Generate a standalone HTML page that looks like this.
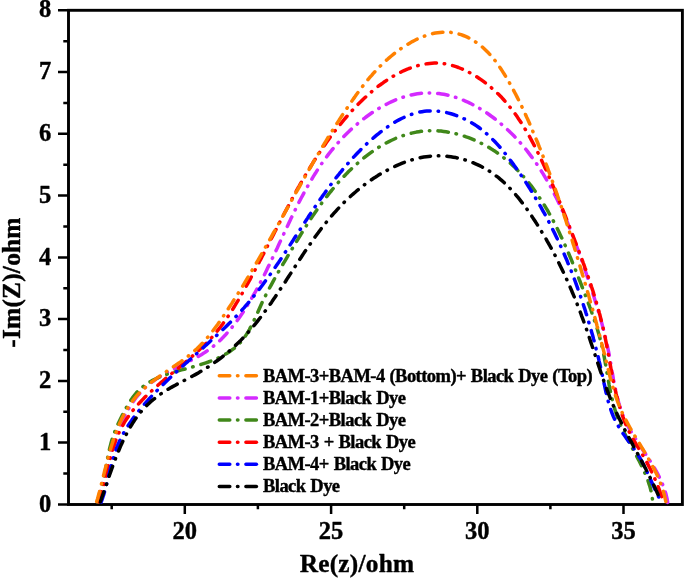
<!DOCTYPE html>
<html><head><meta charset="utf-8"><title>Nyquist plot</title>
<style>
html,body{margin:0;padding:0;background:#fff;overflow:hidden;}
svg{display:block;}
text{font-family:"Liberation Serif",serif;font-weight:bold;fill:#000;stroke:#000;stroke-width:0.4px;stroke-linejoin:round;}
.c{fill:none;stroke-width:3.5;stroke-linecap:round;stroke-linejoin:round;}
.t{font-size:24.5px;}
.l{font-size:18.5px;letter-spacing:-0.55px;word-spacing:0.8px;}
.a{font-size:25.3px;letter-spacing:0.25px;}
</style></head><body>
<svg width="685" height="578" viewBox="0 0 685 578">
<rect width="685" height="578" fill="#fff"/>
<defs><clipPath id="cp"><rect x="68.5" y="10.3" width="613.9" height="495.6"/></clipPath></defs>

<rect x="68.5" y="10.3" width="613.9" height="494.2" fill="none" stroke="#000" stroke-width="2.9"/>
<g clip-path="url(#cp)">
<path class="c" stroke="#D42AFF" stroke-dasharray="10.5 7.70 0.5 8.00" stroke-dashoffset="-1.6" d="M97.1,503.1 L97.7,500.8 L98.3,498.6 L99.0,496.3 L99.6,494.0 L100.2,491.7 L100.8,489.3 L101.4,487.0 L102.0,484.6 L102.7,482.2 L103.3,479.8 L103.9,477.3 L104.5,474.9 L105.2,472.4 L105.8,470.0 L106.5,467.5 L107.1,465.0 L107.8,462.6 L108.5,460.1 L109.2,457.6 L109.9,455.1 L110.6,452.6 L111.4,450.2 L112.1,447.7 L112.9,445.2 L113.7,442.8 L114.5,440.3 L115.4,437.9 L116.3,435.5 L117.1,433.1 L118.1,430.7 L119.0,428.4 L120.0,426.0 L121.0,423.7 L122.0,421.4 L123.1,419.1 L124.2,416.9 L125.3,414.6 L126.5,412.4 L127.7,410.3 L129.0,408.1 L130.3,406.1 L131.6,404.0 L133.0,402.0 L134.4,400.0 L135.8,398.0 L137.3,396.1 L138.9,394.3 L140.5,392.5 L142.1,390.7 L143.8,389.0 L145.5,387.3 L147.3,385.7 L149.2,384.2 L151.1,382.7 L153.1,381.2 L155.1,379.8 L157.1,378.4 L159.2,377.1 L161.3,375.8 L163.5,374.6 L165.7,373.3 L167.9,372.1 L170.1,371.0 L172.4,369.8 L174.6,368.6 L176.9,367.5 L179.2,366.4 L181.5,365.2 L183.8,364.1 L186.1,362.9 L188.3,361.8 L190.6,360.6 L192.9,359.4 L195.1,358.2 L197.3,357.0 L199.5,355.7 L201.7,354.4 L203.8,353.1 L205.9,351.7 L208.0,350.3 L210.0,348.8 L212.0,347.3 L213.9,345.8 L215.8,344.2 L217.7,342.5 L219.5,340.9 L221.3,339.2 L223.0,337.4 L224.8,335.6 L226.4,333.8 L228.1,332.0 L229.7,330.1 L231.3,328.2 L232.9,326.2 L234.4,324.3 L236.0,322.3 L237.4,320.3 L238.9,318.2 L240.3,316.2 L241.8,314.1 L243.2,312.0 L244.5,309.9 L245.9,307.8 L247.2,305.7 L248.5,303.5 L249.8,301.4 L251.1,299.2 L252.4,297.0 L253.6,294.9 L254.9,292.7 L256.1,290.5 L257.3,288.3 L258.5,286.1 L259.7,283.8 L260.8,281.6 L262.0,279.4 L263.1,277.1 L264.3,274.9 L265.4,272.7 L266.5,270.4 L267.6,268.1 L268.7,265.9 L269.8,263.6 L270.9,261.4 L272.0,259.1 L273.1,256.8 L274.2,254.5 L275.2,252.3 L276.3,250.0 L277.4,247.7 L278.4,245.4 L279.5,243.1 L280.5,240.9 L281.6,238.6 L282.7,236.3 L283.7,234.0 L284.8,231.7 L285.8,229.5 L286.9,227.2 L288.0,224.9 L289.0,222.7 L290.1,220.4 L291.2,218.1 L292.3,215.9 L293.4,213.6 L294.5,211.4 L295.6,209.1 L296.7,206.9 L297.8,204.7 L298.9,202.4 L300.1,200.2 L301.2,198.0 L302.4,195.8 L303.6,193.6 L304.8,191.4 L306.0,189.3 L307.2,187.1 L308.4,184.9 L309.6,182.8 L310.9,180.6 L312.2,178.5 L313.4,176.4 L314.7,174.3 L316.1,172.2 L317.4,170.1 L318.8,168.0 L320.1,166.0 L321.5,163.9 L323.0,161.9 L324.4,159.9 L325.9,157.9 L327.3,155.9 L328.8,153.9 L330.4,151.9 L331.9,150.0 L333.5,148.1 L335.1,146.1 L336.7,144.2 L338.4,142.4 L340.1,140.5 L341.8,138.7 L343.5,136.8 L345.3,135.0 L347.1,133.2 L348.9,131.5 L350.7,129.7 L352.6,128.0 L354.5,126.3 L356.5,124.6 L358.5,122.9 L360.5,121.3 L362.5,119.6 L364.6,118.1 L366.7,116.5 L368.8,115.0 L370.9,113.5 L373.1,112.0 L375.3,110.6 L377.5,109.2 L379.7,107.9 L382.0,106.6 L384.3,105.4 L386.5,104.2 L388.8,103.0 L391.2,101.9 L393.5,100.9 L395.8,99.9 L398.2,99.0 L400.6,98.1 L402.9,97.3 L405.3,96.5 L407.7,95.8 L410.1,95.2 L412.5,94.7 L414.9,94.2 L417.3,93.8 L419.7,93.5 L422.1,93.2 L424.5,93.0 L427.0,92.9 L429.4,92.9 L431.8,92.9 L434.2,93.1 L436.6,93.3 L439.0,93.5 L441.4,93.9 L443.7,94.3 L446.1,94.8 L448.5,95.3 L450.8,95.9 L453.2,96.6 L455.5,97.3 L457.9,98.1 L460.2,98.9 L462.5,99.9 L464.8,100.8 L467.1,101.8 L469.3,102.9 L471.6,104.0 L473.8,105.2 L476.0,106.4 L478.2,107.6 L480.4,108.9 L482.6,110.2 L484.7,111.6 L486.9,113.0 L489.0,114.5 L491.0,116.0 L493.1,117.5 L495.1,119.0 L497.1,120.6 L499.1,122.2 L501.1,123.9 L503.0,125.6 L504.9,127.3 L506.8,129.0 L508.7,130.7 L510.5,132.5 L512.3,134.2 L514.1,136.0 L515.8,137.9 L517.5,139.7 L519.2,141.6 L520.9,143.4 L522.5,145.3 L524.1,147.3 L525.7,149.2 L527.3,151.1 L528.8,153.1 L530.3,155.1 L531.8,157.1 L533.3,159.1 L534.7,161.1 L536.2,163.2 L537.6,165.2 L538.9,167.3 L540.3,169.4 L541.6,171.5 L543.0,173.6 L544.3,175.8 L545.5,177.9 L546.8,180.1 L548.0,182.2 L549.3,184.4 L550.5,186.6 L551.7,188.8 L552.8,191.0 L554.0,193.3 L555.1,195.5 L556.3,197.8 L557.4,200.0 L558.5,202.3 L559.5,204.6 L560.6,206.8 L561.7,209.1 L562.7,211.4 L563.7,213.7 L564.7,216.1 L565.7,218.4 L566.7,220.7 L567.7,223.0 L568.6,225.4 L569.6,227.7 L570.5,230.1 L571.4,232.4 L572.4,234.8 L573.3,237.2 L574.2,239.5 L575.1,241.9 L575.9,244.3 L576.8,246.6 L577.7,249.0 L578.5,251.4 L579.4,253.8 L580.2,256.2 L581.1,258.5 L581.9,260.9 L582.7,263.3 L583.6,265.7 L584.4,268.1 L585.2,270.5 L586.0,272.8 L586.8,275.2 L587.6,277.6 L588.4,280.0 L589.2,282.3 L590.0,284.7 L590.8,287.1 L591.6,289.5 L592.3,291.8 L593.1,294.2 L593.9,296.6 L594.6,299.0 L595.3,301.3 L596.1,303.7 L596.8,306.1 L597.5,308.5 L598.2,310.9 L598.9,313.2 L599.6,315.6 L600.3,318.0 L601.0,320.4 L601.7,322.8 L602.3,325.2 L602.9,327.6 L603.6,330.0 L604.2,332.4 L604.8,334.9 L605.4,337.3 L605.9,339.7 L606.5,342.1 L607.0,344.6 L607.6,347.0 L608.1,349.5 L608.6,351.9 L609.1,354.4 L609.5,356.9 L610.0,359.4 L610.4,361.8 L610.9,364.3 L611.3,366.8 L611.7,369.3 L612.1,371.8 L612.6,374.3 L613.0,376.8 L613.4,379.3 L613.9,381.7 L614.4,384.2 L614.9,386.7 L615.4,389.1 L615.9,391.6 L616.4,394.0 L617.0,396.4 L617.6,398.8 L618.3,401.2 L618.9,403.6 L619.7,406.0 L620.4,408.3 L621.2,410.7 L622.1,413.0 L622.9,415.3 L623.9,417.5 L624.9,419.8 L625.9,422.0 L627.0,424.2 L628.2,426.4 L629.3,428.6 L630.6,430.7 L631.8,432.9 L633.1,435.0 L634.4,437.1 L635.8,439.2 L637.1,441.3 L638.5,443.4 L639.9,445.5 L641.3,447.6 L642.7,449.7 L644.0,451.7 L645.4,453.8 L646.8,455.9 L648.2,458.0 L649.6,460.1 L650.9,462.3 L652.2,464.4 L653.5,466.5 L654.8,468.7 L656.1,470.9 L657.3,473.1 L658.4,475.3 L659.5,477.5 L660.6,479.8 L661.6,482.1 L662.6,484.4 L663.5,486.7 L664.4,489.1 L665.1,491.5 L665.9,493.9 L666.5,496.4 L667.1,498.9 L667.5,501.4 L667.9,503.9"/>
<path class="c" stroke="#40881A" stroke-dasharray="10.5 7.82 0.5 8.12" stroke-dashoffset="-1.6" d="M97.6,503.6 L98.4,501.2 L99.1,498.8 L99.8,496.4 L100.5,493.9 L101.1,491.5 L101.7,489.1 L102.3,486.6 L102.8,484.1 L103.3,481.7 L103.8,479.2 L104.2,476.7 L104.7,474.2 L105.1,471.7 L105.6,469.3 L106.0,466.8 L106.5,464.3 L106.9,461.8 L107.4,459.4 L107.8,456.9 L108.3,454.5 L108.8,452.0 L109.4,449.6 L110.0,447.2 L110.6,444.8 L111.2,442.5 L111.9,440.1 L112.6,437.8 L113.4,435.4 L114.3,433.1 L115.1,430.9 L116.1,428.6 L117.0,426.3 L118.0,424.0 L119.1,421.8 L120.2,419.5 L121.3,417.2 L122.5,414.9 L123.7,412.6 L124.9,410.2 L126.2,407.9 L127.5,405.6 L128.8,403.3 L130.3,401.1 L131.7,398.9 L133.2,396.8 L134.8,394.8 L136.4,392.8 L138.1,391.0 L139.9,389.3 L141.7,387.7 L143.6,386.2 L145.5,384.7 L147.5,383.4 L149.5,382.1 L151.6,380.9 L153.7,379.8 L155.9,378.7 L158.0,377.7 L160.3,376.8 L162.5,375.9 L164.8,375.0 L167.2,374.2 L169.5,373.4 L171.9,372.7 L174.3,372.0 L176.7,371.3 L179.1,370.6 L181.5,369.9 L184.0,369.3 L186.4,368.6 L188.9,367.9 L191.3,367.3 L193.8,366.6 L196.2,365.9 L198.7,365.1 L201.1,364.4 L203.5,363.6 L205.9,362.8 L208.3,362.0 L210.7,361.1 L213.0,360.2 L215.3,359.2 L217.6,358.2 L219.9,357.2 L222.1,356.1 L224.2,355.0 L226.3,353.7 L228.4,352.5 L230.4,351.1 L232.3,349.7 L234.2,348.3 L236.1,346.7 L237.8,345.1 L239.5,343.4 L241.1,341.7 L242.7,339.8 L244.1,337.9 L245.5,335.9 L246.9,333.8 L248.2,331.7 L249.4,329.6 L250.5,327.4 L251.7,325.3 L252.8,323.1 L253.8,320.9 L254.8,318.7 L255.9,316.4 L256.9,314.2 L257.9,312.0 L258.9,309.7 L259.9,307.5 L260.9,305.2 L261.9,303.0 L263.0,300.8 L264.1,298.6 L265.2,296.3 L266.3,294.1 L267.5,291.9 L268.6,289.7 L269.8,287.5 L271.0,285.3 L272.2,283.1 L273.4,280.9 L274.6,278.7 L275.8,276.5 L277.1,274.3 L278.3,272.1 L279.6,270.0 L280.9,267.8 L282.1,265.6 L283.4,263.4 L284.7,261.3 L286.0,259.1 L287.3,256.9 L288.5,254.8 L289.8,252.6 L291.1,250.5 L292.4,248.3 L293.7,246.2 L295.0,244.0 L296.3,241.9 L297.6,239.8 L298.9,237.6 L300.2,235.5 L301.5,233.4 L302.8,231.3 L304.1,229.2 L305.5,227.1 L306.8,225.0 L308.2,222.9 L309.5,220.8 L310.9,218.7 L312.3,216.6 L313.7,214.6 L315.1,212.5 L316.5,210.5 L317.9,208.4 L319.4,206.4 L320.8,204.4 L322.3,202.4 L323.8,200.4 L325.3,198.4 L326.9,196.4 L328.4,194.4 L330.0,192.4 L331.6,190.5 L333.2,188.5 L334.8,186.6 L336.5,184.7 L338.1,182.7 L339.8,180.8 L341.6,179.0 L343.3,177.1 L345.1,175.2 L346.8,173.4 L348.6,171.6 L350.5,169.8 L352.3,168.0 L354.2,166.3 L356.1,164.6 L358.0,162.9 L359.9,161.2 L361.8,159.6 L363.8,158.0 L365.8,156.4 L367.8,154.9 L369.8,153.4 L371.9,151.9 L373.9,150.5 L376.0,149.1 L378.1,147.7 L380.2,146.4 L382.3,145.1 L384.5,143.9 L386.7,142.7 L388.9,141.6 L391.1,140.5 L393.3,139.5 L395.5,138.5 L397.8,137.5 L400.0,136.7 L402.3,135.8 L404.6,135.1 L407.0,134.4 L409.3,133.7 L411.6,133.1 L414.0,132.6 L416.4,132.1 L418.8,131.7 L421.2,131.3 L423.6,131.1 L426.1,130.9 L428.5,130.7 L431.0,130.7 L433.5,130.7 L436.0,130.7 L438.5,130.9 L441.0,131.1 L443.6,131.4 L446.1,131.8 L448.6,132.2 L451.2,132.7 L453.7,133.2 L456.2,133.8 L458.8,134.5 L461.3,135.2 L463.7,136.0 L466.2,136.9 L468.6,137.7 L471.1,138.7 L473.4,139.7 L475.8,140.7 L478.1,141.7 L480.4,142.8 L482.6,144.0 L484.9,145.2 L487.0,146.4 L489.2,147.6 L491.3,148.9 L493.4,150.3 L495.5,151.6 L497.5,153.0 L499.5,154.5 L501.5,155.9 L503.4,157.4 L505.3,159.0 L507.2,160.5 L509.1,162.1 L510.9,163.8 L512.7,165.4 L514.5,167.1 L516.2,168.8 L517.9,170.6 L519.6,172.3 L521.3,174.1 L522.9,175.9 L524.5,177.8 L526.1,179.7 L527.7,181.5 L529.3,183.5 L530.8,185.4 L532.3,187.4 L533.7,189.3 L535.2,191.4 L536.6,193.4 L538.0,195.4 L539.4,197.5 L540.8,199.6 L542.2,201.7 L543.5,203.8 L544.8,205.9 L546.1,208.1 L547.4,210.2 L548.6,212.4 L549.9,214.6 L551.1,216.8 L552.3,219.0 L553.5,221.3 L554.7,223.5 L555.8,225.8 L557.0,228.0 L558.1,230.3 L559.2,232.6 L560.3,234.9 L561.4,237.2 L562.5,239.5 L563.6,241.8 L564.6,244.2 L565.7,246.5 L566.7,248.8 L567.7,251.2 L568.7,253.5 L569.7,255.9 L570.7,258.2 L571.7,260.6 L572.6,263.0 L573.6,265.3 L574.6,267.7 L575.5,270.0 L576.5,272.4 L577.4,274.8 L578.3,277.1 L579.2,279.5 L580.2,281.8 L581.1,284.2 L582.0,286.5 L582.9,288.9 L583.8,291.2 L584.7,293.5 L585.6,295.8 L586.4,298.2 L587.3,300.5 L588.2,302.8 L589.1,305.1 L589.9,307.4 L590.8,309.7 L591.6,312.0 L592.4,314.4 L593.2,316.7 L594.0,319.0 L594.8,321.3 L595.6,323.7 L596.3,326.0 L597.1,328.3 L597.8,330.7 L598.5,333.0 L599.2,335.4 L599.8,337.8 L600.5,340.2 L601.1,342.6 L601.7,345.0 L602.2,347.4 L602.8,349.9 L603.3,352.3 L603.8,354.8 L604.3,357.3 L604.7,359.8 L605.2,362.2 L605.6,364.7 L606.1,367.3 L606.5,369.8 L606.9,372.3 L607.4,374.8 L607.8,377.3 L608.2,379.8 L608.7,382.3 L609.1,384.8 L609.6,387.3 L610.1,389.8 L610.6,392.3 L611.1,394.8 L611.7,397.3 L612.3,399.7 L612.9,402.2 L613.5,404.6 L614.2,407.0 L614.9,409.4 L615.6,411.8 L616.4,414.2 L617.2,416.5 L618.1,418.8 L619.0,421.1 L620.0,423.4 L620.9,425.7 L622.0,427.9 L623.0,430.1 L624.1,432.4 L625.2,434.6 L626.3,436.8 L627.5,439.0 L628.6,441.2 L629.8,443.4 L631.0,445.6 L632.1,447.8 L633.3,450.0 L634.5,452.2 L635.7,454.4 L636.9,456.6 L638.0,458.8 L639.2,461.0 L640.3,463.3 L641.4,465.5 L642.5,467.8 L643.6,470.1 L644.6,472.3 L645.6,474.7 L646.6,477.0 L647.5,479.3 L648.3,481.7 L649.1,484.1 L649.9,486.5 L650.5,488.9 L651.1,491.3 L651.6,493.8 L652.1,496.3 L652.4,498.8 L652.7,501.3 L652.9,503.8"/>
<path class="c" stroke="#FF0000" stroke-dasharray="10.5 7.75 0.5 8.05" stroke-dashoffset="-1.6" d="M97.9,503.3 L98.8,501.1 L99.6,498.8 L100.4,496.5 L101.1,494.2 L101.8,491.9 L102.5,489.5 L103.2,487.1 L103.8,484.7 L104.5,482.3 L105.1,479.8 L105.7,477.4 L106.3,474.9 L106.9,472.4 L107.5,469.9 L108.1,467.4 L108.7,464.9 L109.3,462.4 L109.9,459.9 L110.6,457.4 L111.2,454.9 L111.9,452.4 L112.6,449.9 L113.4,447.5 L114.2,445.1 L115.0,442.7 L115.8,440.3 L116.7,437.9 L117.7,435.6 L118.7,433.3 L119.7,431.1 L120.8,428.9 L122.0,426.7 L123.2,424.6 L124.4,422.4 L125.7,420.4 L127.1,418.3 L128.5,416.3 L129.9,414.3 L131.4,412.4 L132.9,410.4 L134.5,408.5 L136.1,406.7 L137.7,404.8 L139.4,403.0 L141.1,401.2 L142.8,399.4 L144.6,397.6 L146.3,395.9 L148.1,394.1 L149.9,392.4 L151.8,390.7 L153.6,389.0 L155.5,387.4 L157.4,385.7 L159.3,384.0 L161.2,382.4 L163.1,380.8 L165.0,379.1 L167.0,377.5 L168.9,375.9 L170.8,374.3 L172.8,372.7 L174.7,371.1 L176.7,369.5 L178.6,367.9 L180.5,366.3 L182.5,364.6 L184.4,363.0 L186.3,361.4 L188.2,359.8 L190.1,358.1 L192.0,356.5 L193.9,354.8 L195.7,353.2 L197.6,351.5 L199.4,349.8 L201.2,348.1 L203.0,346.4 L204.8,344.6 L206.6,342.9 L208.3,341.1 L210.0,339.3 L211.7,337.5 L213.3,335.6 L215.0,333.7 L216.6,331.8 L218.1,329.9 L219.7,328.0 L221.2,326.0 L222.7,324.0 L224.1,322.0 L225.6,320.0 L227.0,317.9 L228.4,315.9 L229.8,313.8 L231.1,311.7 L232.5,309.6 L233.8,307.5 L235.1,305.4 L236.4,303.2 L237.7,301.1 L239.0,298.9 L240.2,296.8 L241.5,294.6 L242.7,292.4 L244.0,290.2 L245.2,288.0 L246.4,285.8 L247.7,283.7 L248.9,281.5 L250.1,279.3 L251.3,277.0 L252.5,274.8 L253.7,272.6 L254.8,270.4 L256.0,268.2 L257.2,266.0 L258.4,263.7 L259.5,261.5 L260.7,259.3 L261.9,257.0 L263.0,254.8 L264.2,252.6 L265.3,250.3 L266.5,248.1 L267.6,245.8 L268.8,243.6 L269.9,241.4 L271.1,239.1 L272.2,236.9 L273.4,234.6 L274.5,232.4 L275.7,230.2 L276.8,227.9 L278.0,225.7 L279.1,223.5 L280.3,221.2 L281.5,219.0 L282.6,216.8 L283.8,214.5 L284.9,212.3 L286.1,210.1 L287.3,207.9 L288.5,205.6 L289.6,203.4 L290.8,201.2 L292.0,199.0 L293.2,196.8 L294.4,194.6 L295.6,192.4 L296.8,190.2 L298.0,188.0 L299.3,185.9 L300.5,183.7 L301.7,181.5 L303.0,179.3 L304.2,177.2 L305.5,175.0 L306.8,172.9 L308.1,170.7 L309.4,168.6 L310.7,166.5 L312.0,164.4 L313.3,162.2 L314.6,160.1 L316.0,158.0 L317.3,156.0 L318.7,153.9 L320.0,151.8 L321.4,149.7 L322.8,147.7 L324.2,145.6 L325.7,143.6 L327.1,141.6 L328.6,139.5 L330.0,137.5 L331.5,135.5 L333.0,133.6 L334.5,131.6 L336.0,129.6 L337.6,127.7 L339.1,125.7 L340.7,123.8 L342.3,121.9 L343.9,119.9 L345.5,118.0 L347.1,116.2 L348.8,114.3 L350.5,112.4 L352.1,110.6 L353.9,108.7 L355.6,106.9 L357.3,105.1 L359.1,103.3 L360.9,101.6 L362.7,99.8 L364.5,98.1 L366.3,96.4 L368.2,94.7 L370.1,93.1 L372.0,91.4 L373.9,89.8 L375.8,88.3 L377.7,86.7 L379.7,85.2 L381.7,83.8 L383.7,82.3 L385.7,81.0 L387.7,79.6 L389.8,78.3 L391.8,77.0 L393.9,75.8 L396.0,74.6 L398.2,73.5 L400.3,72.4 L402.5,71.3 L404.6,70.3 L406.8,69.4 L409.0,68.5 L411.3,67.7 L413.5,66.9 L415.8,66.2 L418.0,65.6 L420.3,65.0 L422.6,64.5 L425.0,64.0 L427.3,63.7 L429.6,63.4 L432.0,63.2 L434.4,63.1 L436.7,63.1 L439.1,63.2 L441.5,63.4 L443.9,63.7 L446.3,64.1 L448.8,64.6 L451.2,65.2 L453.6,65.9 L456.0,66.7 L458.4,67.5 L460.8,68.5 L463.2,69.5 L465.5,70.6 L467.8,71.7 L470.1,72.9 L472.4,74.2 L474.6,75.5 L476.8,76.8 L478.9,78.2 L481.0,79.6 L483.1,81.1 L485.1,82.6 L487.1,84.1 L489.0,85.7 L490.9,87.3 L492.8,88.9 L494.7,90.6 L496.5,92.3 L498.3,94.1 L500.0,95.8 L501.8,97.6 L503.5,99.5 L505.1,101.3 L506.8,103.2 L508.4,105.1 L509.9,107.1 L511.5,109.0 L513.0,111.0 L514.5,113.0 L516.0,115.1 L517.4,117.1 L518.8,119.2 L520.2,121.2 L521.6,123.3 L522.9,125.4 L524.2,127.6 L525.5,129.7 L526.8,131.9 L528.1,134.0 L529.3,136.2 L530.5,138.4 L531.7,140.6 L532.9,142.8 L534.1,145.1 L535.2,147.3 L536.4,149.5 L537.5,151.8 L538.6,154.1 L539.7,156.3 L540.8,158.6 L541.9,160.9 L542.9,163.1 L544.0,165.4 L545.0,167.7 L546.1,170.0 L547.1,172.3 L548.1,174.6 L549.1,176.9 L550.1,179.2 L551.1,181.5 L552.1,183.8 L553.1,186.1 L554.1,188.4 L555.0,190.7 L556.0,193.0 L557.0,195.3 L557.9,197.6 L558.9,199.9 L559.8,202.2 L560.7,204.5 L561.7,206.9 L562.6,209.2 L563.5,211.5 L564.4,213.8 L565.4,216.1 L566.3,218.5 L567.2,220.8 L568.1,223.1 L569.0,225.4 L569.9,227.8 L570.8,230.1 L571.7,232.4 L572.6,234.8 L573.5,237.1 L574.4,239.4 L575.3,241.8 L576.2,244.1 L577.1,246.4 L578.0,248.8 L578.9,251.1 L579.8,253.5 L580.6,255.8 L581.5,258.1 L582.4,260.5 L583.2,262.8 L584.1,265.2 L584.9,267.5 L585.8,269.9 L586.6,272.3 L587.4,274.6 L588.3,277.0 L589.1,279.4 L589.9,281.7 L590.7,284.1 L591.4,286.5 L592.2,288.9 L593.0,291.3 L593.7,293.6 L594.5,296.0 L595.2,298.4 L595.9,300.8 L596.6,303.2 L597.3,305.6 L598.0,308.1 L598.7,310.5 L599.3,312.9 L600.0,315.3 L600.6,317.8 L601.2,320.2 L601.8,322.6 L602.4,325.1 L603.0,327.5 L603.5,330.0 L604.1,332.5 L604.6,334.9 L605.1,337.4 L605.6,339.9 L606.1,342.4 L606.6,344.8 L607.0,347.3 L607.5,349.8 L608.0,352.3 L608.4,354.8 L608.9,357.3 L609.3,359.7 L609.8,362.2 L610.2,364.7 L610.7,367.2 L611.1,369.7 L611.6,372.1 L612.1,374.6 L612.6,377.1 L613.0,379.5 L613.5,382.0 L614.1,384.4 L614.6,386.9 L615.1,389.3 L615.7,391.7 L616.2,394.2 L616.8,396.6 L617.5,399.0 L618.1,401.3 L618.7,403.7 L619.4,406.1 L620.1,408.4 L620.9,410.8 L621.6,413.1 L622.4,415.4 L623.2,417.7 L624.1,420.0 L625.0,422.3 L625.9,424.5 L626.9,426.8 L627.9,429.0 L628.9,431.2 L630.0,433.4 L631.2,435.6 L632.4,437.7 L633.6,439.9 L634.8,442.0 L636.1,444.1 L637.4,446.3 L638.7,448.4 L640.0,450.5 L641.3,452.7 L642.6,454.8 L643.8,457.0 L645.1,459.2 L646.3,461.4 L647.5,463.6 L648.6,465.8 L649.8,468.0 L650.9,470.3 L652.0,472.6 L653.1,474.8 L654.1,477.1 L655.1,479.4 L656.1,481.7 L657.1,484.1 L658.0,486.4 L658.9,488.7 L659.8,491.1 L660.7,493.5 L661.5,495.8 L662.3,498.2 L663.1,500.6 L663.8,503.0"/>
<path class="c" stroke="#0000FF" stroke-dasharray="10.5 7.90 0.5 8.20" stroke-dashoffset="-1.6" d="M100.6,503.5 L101.5,501.2 L102.3,498.9 L103.1,496.5 L103.9,494.1 L104.6,491.7 L105.3,489.3 L105.9,486.9 L106.6,484.5 L107.2,482.0 L107.8,479.6 L108.4,477.1 L109.0,474.6 L109.6,472.2 L110.2,469.7 L110.8,467.2 L111.4,464.8 L112.1,462.3 L112.8,459.9 L113.5,457.5 L114.2,455.1 L115.0,452.7 L115.8,450.3 L116.6,448.0 L117.6,445.7 L118.5,443.4 L119.5,441.2 L120.6,438.9 L121.7,436.7 L122.8,434.5 L124.0,432.4 L125.3,430.2 L126.5,428.1 L127.9,426.0 L129.2,424.0 L130.6,421.9 L132.0,419.9 L133.5,417.9 L134.9,415.9 L136.4,413.9 L138.0,412.0 L139.5,410.0 L141.1,408.1 L142.7,406.2 L144.3,404.3 L146.0,402.4 L147.6,400.6 L149.3,398.7 L151.0,396.9 L152.7,395.1 L154.4,393.3 L156.1,391.5 L157.9,389.7 L159.6,388.0 L161.4,386.2 L163.1,384.5 L164.9,382.7 L166.7,381.0 L168.5,379.3 L170.3,377.5 L172.1,375.8 L173.9,374.1 L175.8,372.4 L177.6,370.8 L179.4,369.1 L181.3,367.4 L183.1,365.7 L184.9,364.0 L186.8,362.4 L188.6,360.7 L190.5,359.0 L192.4,357.4 L194.2,355.7 L196.1,354.1 L197.9,352.4 L199.8,350.7 L201.6,349.1 L203.5,347.4 L205.3,345.8 L207.2,344.1 L209.0,342.4 L210.8,340.7 L212.7,339.1 L214.5,337.4 L216.3,335.7 L218.1,334.0 L219.9,332.3 L221.7,330.6 L223.5,328.9 L225.3,327.2 L227.1,325.4 L228.8,323.7 L230.6,322.0 L232.3,320.2 L234.1,318.4 L235.8,316.7 L237.5,314.9 L239.2,313.1 L240.8,311.3 L242.5,309.4 L244.2,307.6 L245.8,305.7 L247.4,303.9 L249.0,302.0 L250.6,300.1 L252.2,298.2 L253.7,296.3 L255.3,294.3 L256.8,292.4 L258.3,290.4 L259.9,288.5 L261.4,286.5 L262.9,284.5 L264.3,282.5 L265.8,280.5 L267.3,278.5 L268.7,276.5 L270.2,274.5 L271.6,272.4 L273.0,270.4 L274.4,268.4 L275.9,266.3 L277.3,264.2 L278.7,262.2 L280.1,260.1 L281.5,258.0 L282.8,255.9 L284.2,253.8 L285.6,251.8 L287.0,249.7 L288.4,247.6 L289.7,245.5 L291.1,243.4 L292.5,241.3 L293.8,239.2 L295.2,237.0 L296.6,234.9 L297.9,232.8 L299.3,230.7 L300.7,228.6 L302.0,226.5 L303.4,224.4 L304.8,222.3 L306.2,220.2 L307.6,218.1 L308.9,216.0 L310.3,213.9 L311.7,211.8 L313.1,209.7 L314.5,207.6 L315.9,205.6 L317.4,203.5 L318.8,201.4 L320.2,199.3 L321.7,197.3 L323.1,195.2 L324.6,193.2 L326.0,191.2 L327.5,189.1 L329.0,187.1 L330.5,185.1 L332.0,183.1 L333.5,181.1 L335.1,179.1 L336.6,177.1 L338.2,175.2 L339.7,173.2 L341.3,171.3 L342.9,169.3 L344.5,167.4 L346.2,165.5 L347.8,163.6 L349.5,161.7 L351.2,159.8 L352.8,158.0 L354.6,156.1 L356.3,154.3 L358.0,152.5 L359.8,150.7 L361.6,148.9 L363.4,147.1 L365.2,145.4 L367.0,143.6 L368.9,141.9 L370.8,140.2 L372.7,138.5 L374.6,136.9 L376.6,135.2 L378.6,133.6 L380.5,132.0 L382.6,130.5 L384.6,129.0 L386.6,127.5 L388.7,126.1 L390.8,124.7 L392.9,123.3 L395.1,122.0 L397.2,120.8 L399.4,119.6 L401.6,118.5 L403.8,117.5 L406.0,116.5 L408.2,115.5 L410.5,114.7 L412.8,113.9 L415.1,113.2 L417.4,112.6 L419.7,112.1 L422.1,111.7 L424.4,111.3 L426.8,111.1 L429.2,110.9 L431.6,110.9 L434.0,110.9 L436.5,111.0 L438.9,111.3 L441.3,111.6 L443.8,112.0 L446.2,112.5 L448.6,113.1 L451.1,113.8 L453.5,114.5 L455.9,115.3 L458.2,116.2 L460.6,117.2 L462.9,118.2 L465.2,119.3 L467.5,120.4 L469.7,121.6 L471.9,122.9 L474.1,124.2 L476.2,125.6 L478.2,127.0 L480.2,128.5 L482.2,130.0 L484.1,131.6 L486.0,133.2 L487.9,134.8 L489.7,136.5 L491.5,138.2 L493.2,140.0 L495.0,141.8 L496.7,143.6 L498.3,145.4 L500.0,147.3 L501.6,149.2 L503.2,151.1 L504.7,153.0 L506.3,155.0 L507.8,156.9 L509.3,158.9 L510.8,160.9 L512.3,162.9 L513.8,164.9 L515.3,167.0 L516.7,169.0 L518.1,171.0 L519.6,173.1 L521.0,175.1 L522.4,177.2 L523.8,179.3 L525.2,181.3 L526.5,183.4 L527.9,185.5 L529.2,187.6 L530.5,189.7 L531.9,191.8 L533.2,194.0 L534.5,196.1 L535.7,198.3 L537.0,200.4 L538.3,202.6 L539.5,204.7 L540.8,206.9 L542.0,209.1 L543.2,211.3 L544.4,213.4 L545.6,215.6 L546.8,217.8 L547.9,220.1 L549.1,222.3 L550.2,224.5 L551.4,226.7 L552.5,229.0 L553.6,231.2 L554.7,233.4 L555.8,235.7 L556.9,238.0 L557.9,240.2 L559.0,242.5 L560.0,244.8 L561.1,247.1 L562.1,249.3 L563.1,251.6 L564.1,253.9 L565.1,256.2 L566.1,258.5 L567.1,260.8 L568.0,263.2 L569.0,265.5 L569.9,267.8 L570.9,270.1 L571.8,272.5 L572.7,274.8 L573.6,277.1 L574.5,279.5 L575.4,281.8 L576.2,284.2 L577.1,286.6 L577.9,288.9 L578.8,291.3 L579.6,293.6 L580.4,296.0 L581.3,298.4 L582.1,300.8 L582.8,303.2 L583.6,305.5 L584.4,307.9 L585.2,310.3 L585.9,312.7 L586.7,315.1 L587.4,317.5 L588.1,319.9 L588.8,322.3 L589.5,324.7 L590.2,327.1 L590.9,329.5 L591.6,331.9 L592.3,334.3 L593.0,336.8 L593.6,339.2 L594.3,341.6 L594.9,344.0 L595.5,346.5 L596.1,348.9 L596.8,351.3 L597.4,353.8 L598.0,356.2 L598.6,358.6 L599.1,361.1 L599.7,363.5 L600.3,366.0 L600.8,368.4 L601.4,370.9 L601.9,373.3 L602.5,375.8 L603.0,378.2 L603.5,380.7 L604.0,383.1 L604.6,385.6 L605.1,388.1 L605.6,390.5 L606.2,393.0 L606.7,395.4 L607.3,397.8 L607.9,400.2 L608.6,402.6 L609.3,405.0 L610.0,407.4 L610.8,409.7 L611.6,412.0 L612.5,414.3 L613.4,416.6 L614.4,418.8 L615.5,421.1 L616.7,423.2 L617.9,425.4 L619.1,427.5 L620.5,429.6 L621.8,431.7 L623.2,433.8 L624.7,435.8 L626.1,437.9 L627.6,439.9 L629.1,442.0 L630.6,444.0 L632.0,446.1 L633.5,448.1 L634.9,450.2 L636.3,452.3 L637.7,454.4 L639.0,456.5 L640.3,458.7 L641.6,460.9 L642.7,463.1 L643.9,465.3 L645.0,467.5 L646.1,469.8 L647.2,472.1 L648.2,474.3 L649.3,476.6 L650.3,478.9 L651.3,481.2 L652.3,483.5 L653.3,485.8 L654.4,488.1 L655.4,490.3 L656.5,492.6 L657.6,494.8 L658.7,497.1 L659.9,499.3 L661.1,501.5 L662.3,503.7"/>
<path class="c" stroke="#000000" stroke-dasharray="10.5 7.81 0.5 8.12" stroke-dashoffset="-1.6" d="M99.8,503.2 L100.6,501.0 L101.4,498.8 L102.2,496.5 L103.0,494.3 L103.8,492.0 L104.6,489.6 L105.4,487.3 L106.2,485.0 L107.0,482.6 L107.8,480.2 L108.6,477.8 L109.4,475.4 L110.3,473.0 L111.1,470.6 L112.0,468.2 L112.8,465.8 L113.7,463.4 L114.6,461.0 L115.5,458.6 L116.4,456.2 L117.4,453.8 L118.4,451.4 L119.4,449.1 L120.4,446.7 L121.4,444.4 L122.5,442.1 L123.5,439.8 L124.7,437.5 L125.8,435.2 L127.0,433.0 L128.2,430.7 L129.4,428.6 L130.7,426.4 L132.0,424.3 L133.3,422.2 L134.7,420.1 L136.1,418.1 L137.6,416.1 L139.0,414.1 L140.6,412.2 L142.2,410.4 L143.8,408.5 L145.5,406.8 L147.2,405.0 L148.9,403.4 L150.7,401.7 L152.6,400.1 L154.5,398.6 L156.4,397.1 L158.4,395.6 L160.4,394.2 L162.4,392.8 L164.5,391.5 L166.6,390.2 L168.7,388.9 L170.9,387.6 L173.1,386.4 L175.3,385.2 L177.5,384.0 L179.7,382.8 L181.9,381.6 L184.2,380.5 L186.4,379.3 L188.6,378.2 L190.9,377.0 L193.1,375.8 L195.3,374.6 L197.5,373.4 L199.7,372.1 L201.8,370.8 L204.0,369.5 L206.1,368.2 L208.2,366.9 L210.3,365.5 L212.3,364.1 L214.4,362.7 L216.4,361.2 L218.4,359.8 L220.4,358.3 L222.3,356.8 L224.3,355.2 L226.2,353.7 L228.1,352.1 L230.0,350.5 L231.8,348.9 L233.6,347.2 L235.4,345.5 L237.2,343.8 L239.0,342.1 L240.7,340.4 L242.4,338.6 L244.1,336.8 L245.8,335.0 L247.4,333.2 L249.1,331.4 L250.7,329.5 L252.3,327.6 L253.9,325.7 L255.4,323.8 L257.0,321.9 L258.5,319.9 L260.0,318.0 L261.6,316.0 L263.1,314.0 L264.5,312.0 L266.0,310.0 L267.5,308.0 L268.9,306.0 L270.4,303.9 L271.8,301.9 L273.2,299.8 L274.6,297.8 L276.0,295.7 L277.4,293.6 L278.8,291.5 L280.2,289.4 L281.6,287.3 L283.0,285.2 L284.4,283.1 L285.8,281.0 L287.1,278.9 L288.5,276.7 L289.9,274.6 L291.3,272.5 L292.6,270.4 L294.0,268.2 L295.4,266.1 L296.8,264.0 L298.2,261.9 L299.5,259.8 L300.9,257.7 L302.3,255.5 L303.7,253.4 L305.1,251.3 L306.6,249.2 L308.0,247.2 L309.4,245.1 L310.9,243.0 L312.3,240.9 L313.8,238.9 L315.2,236.8 L316.7,234.8 L318.2,232.8 L319.7,230.7 L321.2,228.7 L322.8,226.7 L324.3,224.8 L325.9,222.8 L327.5,220.8 L329.1,218.9 L330.7,217.0 L332.3,215.1 L334.0,213.2 L335.7,211.3 L337.4,209.4 L339.1,207.6 L340.8,205.8 L342.6,204.0 L344.3,202.2 L346.1,200.4 L348.0,198.7 L349.8,197.0 L351.7,195.3 L353.6,193.6 L355.5,192.0 L357.4,190.3 L359.3,188.8 L361.3,187.2 L363.3,185.6 L365.3,184.1 L367.4,182.6 L369.4,181.2 L371.5,179.7 L373.6,178.3 L375.7,177.0 L377.8,175.6 L379.9,174.3 L382.1,173.1 L384.3,171.8 L386.5,170.6 L388.7,169.5 L390.9,168.3 L393.2,167.2 L395.4,166.2 L397.7,165.1 L400.0,164.2 L402.3,163.2 L404.6,162.3 L407.0,161.5 L409.3,160.7 L411.7,159.9 L414.1,159.2 L416.5,158.6 L418.9,158.0 L421.3,157.5 L423.7,157.0 L426.2,156.7 L428.6,156.4 L431.1,156.1 L433.5,155.9 L436.0,155.9 L438.5,155.8 L441.0,155.9 L443.5,156.0 L446.0,156.2 L448.4,156.5 L450.9,156.8 L453.4,157.2 L455.9,157.6 L458.3,158.2 L460.7,158.7 L463.2,159.4 L465.6,160.1 L468.0,160.9 L470.3,161.7 L472.7,162.6 L475.0,163.6 L477.3,164.6 L479.6,165.7 L481.8,166.8 L484.0,168.0 L486.2,169.2 L488.3,170.5 L490.4,171.8 L492.5,173.2 L494.5,174.7 L496.5,176.2 L498.5,177.7 L500.4,179.3 L502.3,180.9 L504.1,182.6 L505.9,184.3 L507.7,186.1 L509.4,187.8 L511.2,189.6 L512.8,191.5 L514.5,193.4 L516.2,195.3 L517.8,197.2 L519.4,199.2 L520.9,201.1 L522.5,203.1 L524.0,205.2 L525.5,207.2 L527.0,209.2 L528.4,211.3 L529.9,213.4 L531.3,215.5 L532.7,217.6 L534.1,219.7 L535.5,221.8 L536.8,223.9 L538.2,226.0 L539.5,228.2 L540.8,230.3 L542.1,232.5 L543.4,234.6 L544.7,236.8 L546.0,238.9 L547.2,241.1 L548.5,243.3 L549.7,245.5 L550.9,247.7 L552.1,249.9 L553.3,252.1 L554.5,254.3 L555.6,256.5 L556.8,258.7 L557.9,261.0 L559.0,263.2 L560.1,265.5 L561.2,267.7 L562.3,270.0 L563.4,272.2 L564.4,274.5 L565.5,276.8 L566.5,279.0 L567.6,281.3 L568.6,283.6 L569.6,285.9 L570.6,288.2 L571.6,290.5 L572.5,292.8 L573.5,295.1 L574.5,297.4 L575.4,299.7 L576.3,302.0 L577.3,304.4 L578.2,306.7 L579.1,309.0 L580.0,311.4 L580.9,313.7 L581.7,316.1 L582.6,318.4 L583.5,320.8 L584.3,323.1 L585.2,325.5 L586.0,327.8 L586.8,330.2 L587.6,332.6 L588.4,334.9 L589.2,337.3 L590.0,339.7 L590.8,342.1 L591.6,344.5 L592.4,346.8 L593.2,349.2 L594.0,351.6 L594.8,354.0 L595.5,356.4 L596.3,358.7 L597.1,361.1 L597.9,363.5 L598.7,365.9 L599.5,368.3 L600.3,370.6 L601.1,373.0 L601.9,375.4 L602.7,377.7 L603.5,380.1 L604.4,382.4 L605.2,384.8 L606.1,387.1 L606.9,389.5 L607.8,391.8 L608.7,394.1 L609.6,396.5 L610.5,398.8 L611.5,401.1 L612.4,403.4 L613.4,405.7 L614.4,408.0 L615.4,410.2 L616.4,412.5 L617.4,414.8 L618.5,417.0 L619.6,419.2 L620.7,421.5 L621.8,423.7 L622.9,425.9 L624.0,428.2 L625.1,430.4 L626.3,432.6 L627.5,434.8 L628.6,437.0 L629.8,439.2 L631.0,441.4 L632.2,443.6 L633.3,445.8 L634.5,448.0 L635.7,450.2 L636.9,452.4 L638.1,454.6 L639.3,456.8 L640.5,459.0 L641.7,461.2 L642.8,463.4 L644.0,465.6 L645.2,467.8 L646.3,470.1 L647.5,472.3 L648.6,474.5 L649.7,476.8 L650.8,479.0 L651.9,481.3 L653.0,483.5 L654.1,485.8 L655.1,488.1 L656.2,490.4 L657.2,492.7 L658.2,495.0 L659.2,497.3 L660.1,499.7 L661.0,502.0"/>
<path class="c" stroke="#FF8000" stroke-dasharray="10.5 7.78 0.5 8.08" stroke-dashoffset="-1.6" d="M96.3,503.2 L96.9,500.9 L97.6,498.7 L98.2,496.4 L98.8,494.1 L99.5,491.7 L100.1,489.4 L100.7,487.0 L101.3,484.6 L101.9,482.2 L102.5,479.8 L103.1,477.4 L103.7,474.9 L104.3,472.5 L104.9,470.0 L105.6,467.5 L106.2,465.1 L106.8,462.6 L107.5,460.1 L108.1,457.6 L108.8,455.1 L109.5,452.7 L110.2,450.2 L110.9,447.7 L111.7,445.3 L112.5,442.8 L113.2,440.4 L114.1,438.0 L114.9,435.5 L115.8,433.2 L116.7,430.8 L117.6,428.4 L118.6,426.1 L119.5,423.8 L120.6,421.5 L121.6,419.2 L122.7,417.0 L123.9,414.8 L125.1,412.6 L126.3,410.5 L127.5,408.4 L128.9,406.3 L130.2,404.3 L131.6,402.3 L133.1,400.3 L134.6,398.4 L136.1,396.5 L137.7,394.7 L139.4,392.9 L141.1,391.2 L142.9,389.5 L144.7,387.9 L146.6,386.2 L148.4,384.7 L150.4,383.1 L152.3,381.6 L154.3,380.1 L156.3,378.6 L158.4,377.1 L160.4,375.7 L162.5,374.2 L164.6,372.8 L166.7,371.3 L168.8,369.9 L170.8,368.5 L172.9,367.1 L175.0,365.6 L177.1,364.2 L179.2,362.8 L181.3,361.3 L183.3,359.8 L185.3,358.3 L187.3,356.8 L189.3,355.2 L191.3,353.7 L193.2,352.1 L195.0,350.4 L196.9,348.8 L198.7,347.0 L200.4,345.3 L202.1,343.5 L203.8,341.7 L205.5,339.9 L207.1,338.0 L208.7,336.1 L210.3,334.2 L211.8,332.2 L213.3,330.3 L214.8,328.3 L216.3,326.3 L217.8,324.3 L219.2,322.3 L220.6,320.2 L222.0,318.2 L223.4,316.1 L224.8,314.0 L226.2,311.9 L227.6,309.9 L228.9,307.8 L230.3,305.7 L231.7,303.6 L233.0,301.5 L234.3,299.4 L235.7,297.3 L237.0,295.2 L238.3,293.1 L239.6,290.9 L240.9,288.8 L242.3,286.7 L243.6,284.6 L244.9,282.4 L246.1,280.3 L247.4,278.2 L248.7,276.0 L250.0,273.9 L251.3,271.7 L252.5,269.6 L253.8,267.4 L255.1,265.3 L256.3,263.1 L257.6,261.0 L258.8,258.8 L260.1,256.6 L261.3,254.5 L262.6,252.3 L263.8,250.1 L265.0,247.9 L266.3,245.8 L267.5,243.6 L268.7,241.4 L270.0,239.2 L271.2,237.1 L272.4,234.9 L273.6,232.7 L274.9,230.5 L276.1,228.3 L277.3,226.2 L278.5,224.0 L279.7,221.8 L281.0,219.6 L282.2,217.4 L283.4,215.2 L284.6,213.0 L285.8,210.8 L287.0,208.7 L288.3,206.5 L289.5,204.3 L290.7,202.1 L291.9,199.9 L293.2,197.7 L294.4,195.5 L295.6,193.3 L296.8,191.1 L298.1,189.0 L299.3,186.8 L300.5,184.6 L301.8,182.4 L303.0,180.2 L304.2,178.1 L305.5,175.9 L306.7,173.7 L308.0,171.5 L309.2,169.3 L310.5,167.2 L311.7,165.0 L313.0,162.8 L314.2,160.7 L315.5,158.5 L316.8,156.3 L318.1,154.2 L319.3,152.0 L320.6,149.9 L321.9,147.7 L323.2,145.6 L324.5,143.4 L325.8,141.3 L327.1,139.1 L328.4,137.0 L329.8,134.8 L331.1,132.7 L332.4,130.6 L333.7,128.5 L335.1,126.3 L336.4,124.2 L337.8,122.1 L339.2,120.0 L340.5,117.9 L341.9,115.8 L343.3,113.7 L344.7,111.6 L346.1,109.5 L347.5,107.4 L348.9,105.3 L350.3,103.2 L351.8,101.2 L353.2,99.1 L354.7,97.1 L356.1,95.0 L357.6,93.0 L359.1,91.0 L360.6,88.9 L362.1,86.9 L363.7,85.0 L365.2,83.0 L366.8,81.1 L368.4,79.1 L370.0,77.2 L371.7,75.3 L373.3,73.4 L375.0,71.6 L376.7,69.7 L378.5,67.9 L380.2,66.1 L382.0,64.4 L383.8,62.6 L385.6,60.9 L387.5,59.3 L389.4,57.6 L391.3,56.0 L393.3,54.4 L395.3,52.8 L397.3,51.3 L399.3,49.8 L401.4,48.3 L403.5,46.9 L405.7,45.5 L407.9,44.2 L410.0,42.9 L412.3,41.6 L414.5,40.5 L416.8,39.3 L419.1,38.3 L421.4,37.3 L423.7,36.4 L426.0,35.6 L428.3,34.8 L430.7,34.1 L433.0,33.5 L435.4,33.0 L437.7,32.7 L440.1,32.4 L442.5,32.2 L444.8,32.1 L447.2,32.1 L449.5,32.2 L451.9,32.5 L454.2,32.9 L456.5,33.4 L458.8,34.0 L461.1,34.7 L463.3,35.5 L465.6,36.4 L467.8,37.4 L470.0,38.6 L472.1,39.8 L474.2,41.1 L476.3,42.4 L478.3,43.9 L480.3,45.4 L482.3,47.0 L484.2,48.7 L486.0,50.4 L487.8,52.2 L489.5,54.1 L491.2,56.0 L492.9,57.9 L494.5,59.9 L496.1,62.0 L497.6,64.0 L499.1,66.1 L500.5,68.3 L501.9,70.4 L503.3,72.6 L504.7,74.8 L506.0,77.0 L507.3,79.2 L508.6,81.4 L509.9,83.6 L511.1,85.8 L512.3,88.0 L513.5,90.2 L514.7,92.5 L515.9,94.7 L517.0,96.9 L518.2,99.2 L519.3,101.4 L520.4,103.7 L521.5,105.9 L522.6,108.2 L523.6,110.5 L524.7,112.7 L525.7,115.0 L526.7,117.3 L527.8,119.5 L528.8,121.8 L529.8,124.1 L530.8,126.4 L531.8,128.7 L532.7,131.0 L533.7,133.3 L534.7,135.6 L535.6,137.9 L536.6,140.2 L537.6,142.5 L538.5,144.8 L539.4,147.1 L540.4,149.4 L541.3,151.7 L542.2,154.1 L543.1,156.4 L544.0,158.7 L544.9,161.0 L545.8,163.4 L546.7,165.7 L547.6,168.0 L548.4,170.4 L549.3,172.7 L550.2,175.1 L551.0,177.4 L551.9,179.8 L552.7,182.1 L553.6,184.5 L554.4,186.8 L555.3,189.2 L556.1,191.5 L556.9,193.9 L557.7,196.3 L558.5,198.6 L559.4,201.0 L560.2,203.4 L561.0,205.7 L561.8,208.1 L562.6,210.5 L563.3,212.8 L564.1,215.2 L564.9,217.6 L565.7,220.0 L566.5,222.4 L567.2,224.7 L568.0,227.1 L568.7,229.5 L569.5,231.9 L570.3,234.3 L571.0,236.7 L571.8,239.1 L572.5,241.5 L573.2,243.9 L574.0,246.2 L574.7,248.6 L575.5,251.0 L576.2,253.4 L576.9,255.8 L577.6,258.2 L578.4,260.6 L579.1,263.0 L579.8,265.4 L580.5,267.8 L581.2,270.2 L581.9,272.6 L582.6,275.0 L583.4,277.4 L584.1,279.8 L584.8,282.3 L585.5,284.7 L586.2,287.1 L586.9,289.5 L587.6,291.9 L588.3,294.3 L589.0,296.7 L589.6,299.1 L590.3,301.5 L591.0,303.9 L591.7,306.3 L592.4,308.7 L593.1,311.2 L593.7,313.6 L594.4,316.0 L595.1,318.4 L595.7,320.8 L596.4,323.2 L597.0,325.6 L597.7,328.1 L598.3,330.5 L599.0,332.9 L599.6,335.3 L600.3,337.8 L600.9,340.2 L601.5,342.6 L602.1,345.1 L602.8,347.5 L603.4,349.9 L604.0,352.4 L604.6,354.8 L605.2,357.2 L605.8,359.7 L606.4,362.1 L607.0,364.6 L607.6,367.0 L608.2,369.4 L608.8,371.9 L609.4,374.3 L610.0,376.7 L610.6,379.1 L611.3,381.5 L612.0,384.0 L612.6,386.4 L613.4,388.7 L614.1,391.1 L614.8,393.5 L615.6,395.9 L616.4,398.2 L617.2,400.5 L618.1,402.9 L619.0,405.2 L619.9,407.5 L620.9,409.7 L621.9,412.0 L623.0,414.3 L624.0,416.5 L625.1,418.7 L626.3,420.9 L627.5,423.1 L628.7,425.3 L629.9,427.5 L631.1,429.6 L632.4,431.8 L633.6,433.9 L634.9,436.1 L636.2,438.2 L637.5,440.4 L638.8,442.5 L640.1,444.7 L641.4,446.8 L642.7,449.0 L644.0,451.1 L645.3,453.3 L646.6,455.4 L647.8,457.6 L649.1,459.8 L650.3,462.0 L651.5,464.1 L652.7,466.4 L653.9,468.6 L655.0,470.8 L656.1,473.1 L657.2,475.3 L658.2,477.6 L659.2,479.9 L660.1,482.2 L661.0,484.5 L661.9,486.9 L662.7,489.3 L663.4,491.7 L664.1,494.1 L664.8,496.6 L665.3,499.1 L665.9,501.6 L666.3,504.1"/>
</g>
<path d="M58,504.4H68.5 M58,442.6H68.5 M58,380.9H68.5 M58,319.1H68.5 M58,257.4H68.5 M58,195.6H68.5 M58,133.8H68.5 M58,72.1H68.5 M58,10.3H68.5 M63.3,473.5H68.5 M63.3,411.8H68.5 M63.3,350.0H68.5 M63.3,288.2H68.5 M63.3,226.5H68.5 M63.3,164.7H68.5 M63.3,103.0H68.5 M63.3,41.2H68.5 M184.8,504.5V513.9 M331.1,504.5V513.9 M477.3,504.5V513.9 M623.5,504.5V513.9 M111.7,504.5V509.3 M257.9,504.5V509.3 M404.2,504.5V509.3 M550.4,504.5V509.3" stroke="#000" stroke-width="2.5" fill="none"/>
<text class="t" x="51.3" y="511.5" text-anchor="end">0</text>
<text class="t" x="51.3" y="449.7" text-anchor="end">1</text>
<text class="t" x="51.3" y="388.0" text-anchor="end">2</text>
<text class="t" x="51.3" y="326.2" text-anchor="end">3</text>
<text class="t" x="51.3" y="264.5" text-anchor="end">4</text>
<text class="t" x="51.3" y="202.7" text-anchor="end">5</text>
<text class="t" x="51.3" y="140.9" text-anchor="end">6</text>
<text class="t" x="51.3" y="79.2" text-anchor="end">7</text>
<text class="t" x="51.3" y="17.4" text-anchor="end">8</text>
<text class="t" x="184.8" y="539" text-anchor="middle">20</text>
<text class="t" x="331.1" y="539" text-anchor="middle">25</text>
<text class="t" x="477.3" y="539" text-anchor="middle">30</text>
<text class="t" x="623.5" y="539" text-anchor="middle">35</text>
<text class="a" x="357" y="571.7" text-anchor="middle">Re(z)/ohm</text>
<text class="a" transform="translate(19.8,282.5) rotate(-90)" text-anchor="middle">-Im(Z)/ohm</text>
<path class="c" stroke="#FF8000" stroke-dasharray="10.5 7.65 0.5 7.95" d="M219.3,375.75H256.4"/>
<text class="l" x="263" y="381.5">BAM-3+BAM-4 (Bottom)+ Black Dye (Top)</text>
<path class="c" stroke="#D42AFF" stroke-dasharray="10.5 7.65 0.5 7.95" d="M219.3,397.90H256.4"/>
<text class="l" x="263" y="403.6">BAM-1+Black Dye</text>
<path class="c" stroke="#40881A" stroke-dasharray="10.5 7.65 0.5 7.95" d="M219.3,420.05H256.4"/>
<text class="l" x="263" y="425.8">BAM-2+Black Dye</text>
<path class="c" stroke="#FF0000" stroke-dasharray="10.5 7.65 0.5 7.95" d="M219.3,442.20H256.4"/>
<text class="l" x="263" y="447.9">BAM-3 + Black Dye</text>
<path class="c" stroke="#0000FF" stroke-dasharray="10.5 7.65 0.5 7.95" d="M219.3,464.35H256.4"/>
<text class="l" x="263" y="470.1">BAM-4+ Black Dye</text>
<path class="c" stroke="#000000" stroke-dasharray="10.5 7.65 0.5 7.95" d="M219.3,486.50H256.4"/>
<text class="l" x="263" y="492.2">Black Dye</text>
</svg></body></html>
